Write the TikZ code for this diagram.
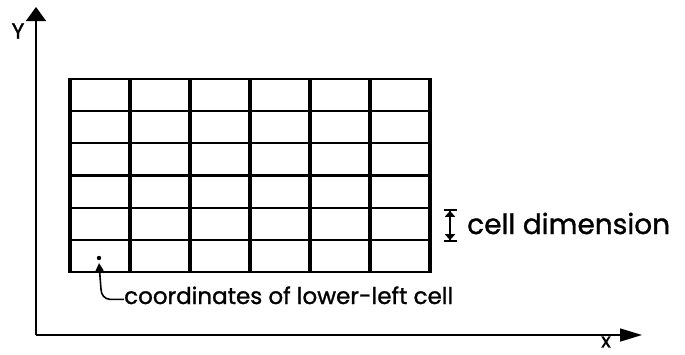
\documentclass[tikz,border=0pt]{standalone}
\usepackage{fontspec}
\setmainfont{Poppins}[FakeBold=1.2]
\usepackage{tikz}
\usetikzlibrary{arrows.meta, positioning}

\begin{document}
\begin{tikzpicture}[x=1pt, y=-1pt,
    axis/.style={line width=1.6pt},
    hline/.style={line width=2.2pt},
    vline/.style={line width=3.2pt},
    txt/.style={font=\fontsize{23}{26}\selectfont, inner sep=0pt, anchor=base west},
    dim/.style={line width=1.6pt, {Bar[width=13pt,line width=1.8pt]Triangle[length=6pt,width=10pt]}-{Triangle[length=6pt,width=10pt]Bar[width=13pt,line width=1.8pt]}}
]
\useasboundingbox (0,0) rectangle (685,354);

% axes
\coordinate (origin) at (36,335);
\coordinate (xTip) at (642,335);
\coordinate (yTip) at (36,7);
\draw [axis, -{Triangle[length=22pt,width=13pt]}] (origin) -- (xTip);
\draw [axis, -{Triangle[length=14pt,width=20pt]}] (origin) -- (yTip);
\node (yLabel) [font=\fontsize{22}{24}\selectfont, inner sep=0pt] at (18,31) {Y};
\node (xLabel) [font=\fontsize{20}{22}\selectfont, inner sep=0pt] at (606,342) {x};

% grid
\foreach \r in {0,...,6}
    \draw [hline] (69,{79+32.17*\r}) -- (431,{79+32.17*\r});
\foreach \c in {0,...,6}
    \draw [vline] ({70+60*\c},78) -- ({70+60*\c},273);

% cell dimension
\coordinate (dimTop) at (450,209);
\coordinate (dimBot) at (450,242);
\draw [dim] (dimTop) -- (dimBot);
\node (cellLabel) [txt, font=\fontsize{28}{30}\selectfont] at (467,234) {cell dimension};

% lower-left cell
\fill (99,258) circle (2.2pt) coordinate (dot);
\node (coordLabel) [txt] at (124,304) {coordinates of lower-left cell};
\draw [line width=1.6pt, -{Triangle[length=8pt,width=8pt]}]
    ([yshift=-4pt]coordLabel.west) -- ++(-14,0) to[out=180, in=-90] ++(-9,-10) -- ([yshift=-5pt]dot);

\end{tikzpicture}
\end{document}
